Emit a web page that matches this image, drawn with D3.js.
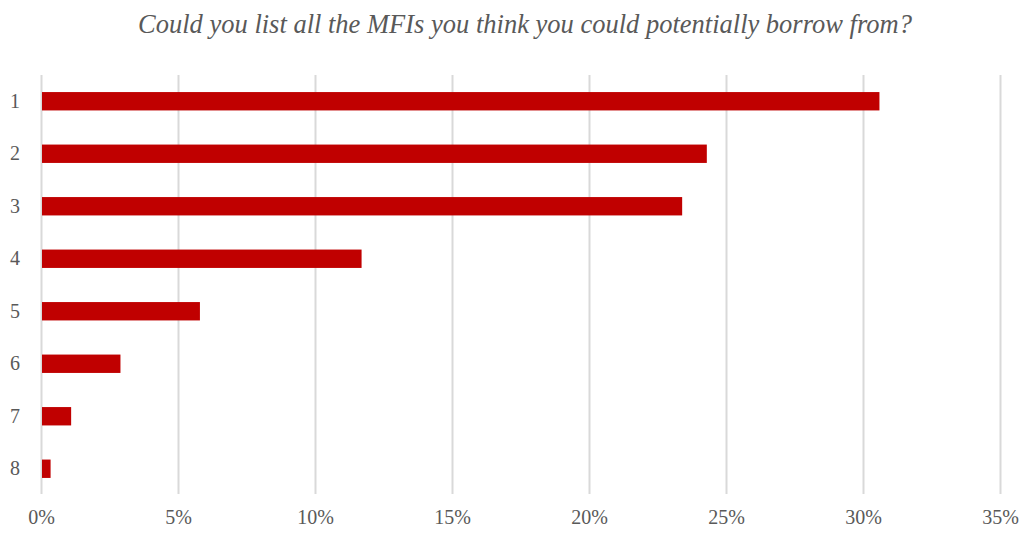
<!DOCTYPE html>
<html><head><meta charset="utf-8">
<script src="https://cdn.jsdelivr.net/npm/d3@7"></script>
<style>
body{margin:0;background:#fff;}
text{font-family:"Liberation Serif","Times New Roman",serif;fill:#595959;}
</style></head>
<body><svg id="c" width="1029" height="533"></svg>
<script>
const title = "Could you list all the MFIs you think you could potentially borrow from?";
const categories = ["1","2","3","4","5","6","7","8"];
const values = [30.6, 24.3, 23.4, 11.7, 5.8, 2.9, 1.1, 0.35];
const xTicks = [0,5,10,15,20,25,30,35];

const svg = d3.select("#c");
const x = d3.scaleLinear().domain([0,35]).range([41,1000]);
const y = d3.scaleBand().domain(categories).range([75,495]).paddingInner(0.65).paddingOuter(0.325);

svg.append("text").attr("x",525).attr("y",33).attr("text-anchor","middle")
  .style("font-style","italic").style("font-size","26.5px").text(title);

const gx = svg.append("g").attr("transform","translate(0,494)")
  .call(d3.axisBottom(x).tickValues(xTicks).tickSize(-419).tickFormat(d=>d+"%").tickPadding(16));
gx.select(".domain").remove();
gx.selectAll("line").attr("stroke","#d9d9d9").attr("stroke-width",2);
gx.selectAll("text").style("font-size","20px").attr("fill","#595959");

const gy = svg.append("g").attr("transform","translate(28,0)")
  .call(d3.axisLeft(y).tickSize(0).tickPadding(0));
gy.select(".domain").remove();
gy.selectAll("text").style("font-size","20px").attr("fill","#595959").attr("text-anchor","middle").attr("dx","-13");

svg.append("g").selectAll("rect").data(values).join("rect")
  .attr("x",x(0)+1).attr("y",(d,i)=>y(categories[i]))
  .attr("width",d=>x(d)-x(0)-1).attr("height",y.bandwidth())
  .attr("fill","#c00000");
</script></body></html>
